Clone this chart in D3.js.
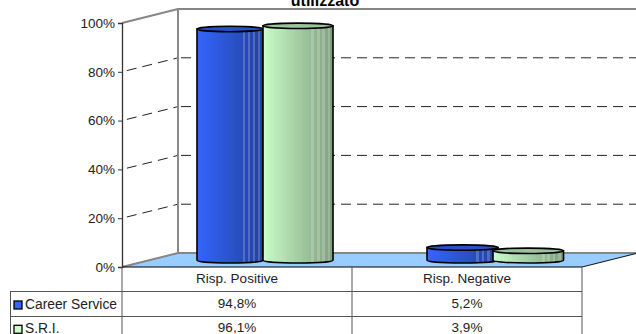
<!DOCTYPE html>
<html><head><meta charset="utf-8">
<script src="https://cdn.jsdelivr.net/npm/d3@7/dist/d3.min.js"></script>
<style>html,body{margin:0;padding:0;background:#fff;overflow:hidden}text{font-family:"Liberation Sans",Arial,sans-serif;fill:#222}</style>
</head><body><svg id="c" width="636" height="334"></svg>
<script>
const categories = ["Risp. Positive","Risp. Negative"];
const seriesNames = ["Career Service","S.R.I."];
const careerService = [94.8,5.2];
const sri = [96.1,3.9];
const yTicks = [0,20,40,60,80,100];
const title = "utilizzato";
const series = [careerService, sri];
const fmt = v => v.toFixed(1).replace(".",",")+"%";

const svg = d3.select("#c");
const y = d3.scaleLinear().domain([0,100]).range([267,23]);
const x = d3.scaleBand().domain(categories).range([122,582]);
const dx = 56, dy = -14;
const right = 636;

const defs = svg.append("defs");
function grad(id, l, m, r){
  const g = defs.append("linearGradient").attr("id",id);
  const c = d3.scaleLinear().domain([0,.15,1]).range([l,m,r]);
  const n = 26;
  d3.range(n).forEach(i=>{
    let col = c((i+.5)/n);
    if(i>=18 && i%2===0) col = d3.interpolateRgb(col,"#ffffff")(.2);
    g.append("stop").attr("offset",i/n).attr("stop-color",col);
    g.append("stop").attr("offset",(i+1)/n).attr("stop-color",col);
  });
}
grad("g0","#3366ff","#3060ee","#22409e");
grad("g1","#ccffcc","#bdeebd","#7f9f7f");

svg.append("text").attr("x",325).attr("y",5.5).attr("text-anchor","middle")
  .attr("font-size",16).attr("font-weight","bold").style("fill","#000").text(title);

svg.append("polygon").attr("fill","#99ccff")
  .attr("points",[[122,y(0)],[582,y(0)],[582+dx,y(0)+dy],[122+dx,y(0)+dy]].join(" "));

yTicks.filter(t=>t>0&&t<100).forEach(t=>{
  svg.append("line").attr("x1",122).attr("y1",y(t)).attr("x2",122+dx).attr("y2",y(t)+dy)
    .attr("stroke","#222").attr("stroke-dasharray","10 6").attr("stroke-dashoffset",-5);
  svg.append("line").attr("x1",122+dx).attr("y1",y(t)+dy).attr("x2",right).attr("y2",y(t)+dy)
    .attr("stroke","#222").attr("stroke-dasharray","10 6").attr("stroke-dashoffset",-3);
});

const gray="#858585";
svg.append("path").attr("fill","none").attr("stroke",gray).attr("stroke-width",1.9)
  .attr("d",`M122,${y(100)}L${122+dx},${y(100)+dy}H${right}M122,${y(0)}L${122+dx},${y(0)+dy}H${right}M${122+dx},${y(100)+dy}V${y(0)+dy}`);

svg.append("line").attr("x1",122).attr("x2",582).attr("y1",y(0)).attr("y2",y(0)).attr("stroke","#000").attr("stroke-width",1.2);
svg.append("line").attr("x1",582).attr("y1",y(0)).attr("x2",582+dx).attr("y2",y(0)+dy).attr("stroke","#111");

const barW = [[66,70],[71,70.5]];
const barX = [[197,263],[427,493]];
const topCol = ["#2a50c8","#9cc49c"];
const baseY = 260.3, scaleH = (y(0)-y(100))/100;
categories.forEach((c,ci)=>{
  series.forEach((s,si)=>{
    const w = barW[ci][si], l = barX[ci][si], rx=w/2, ry=2.7;
    const top = baseY - s[ci]*scaleH;
    const g = svg.append("g");
    g.append("path").attr("fill",`url(#g${si})`).attr("stroke","#000").attr("stroke-width",1.6)
     .attr("d",`M${l},${top}V${baseY}A${rx},${ry} 0 0 0 ${l+w},${baseY}V${top}Z`);
    g.append("ellipse").attr("cx",l+rx).attr("cy",top).attr("rx",rx).attr("ry",ry)
     .attr("fill",topCol[si]).attr("stroke","#000").attr("stroke-width",1.6);
  });
});

const axis = svg.append("g").attr("transform","translate(122,0)")
  .call(d3.axisLeft(y).tickValues(yTicks).tickSize(4).tickPadding(3).tickFormat(d=>d+"%"));
axis.select(".domain").attr("stroke","#333").attr("stroke-width",1.3);
axis.selectAll("line").attr("stroke","#333");
axis.selectAll("text").attr("font-size",13.5).style("font-family",'"Liberation Sans"');

const rowY = [267,291,315.3];
const tc="#555";
[122,352,582].forEach(cx=>svg.append("line").attr("x1",cx).attr("x2",cx).attr("y1",267).attr("y2",334).attr("stroke",tc));
svg.append("line").attr("x1",10.5).attr("x2",10.5).attr("y1",291).attr("y2",334).attr("stroke",tc);
[291.5,316.5].forEach(yy=>svg.append("line").attr("x1",10).attr("x2",582).attr("y1",yy).attr("y2",yy).attr("stroke",tc));
categories.forEach((c,i)=>{
  svg.append("text").attr("x",x(c)+x.bandwidth()/2).attr("y",283).attr("text-anchor","middle").attr("font-size",13.5).text(c);
  series.forEach((s,si)=>{
    svg.append("text").attr("x",x(c)+x.bandwidth()/2).attr("y",rowY[si+1]+17).attr("text-anchor","middle").attr("font-size",13.5).text(fmt(s[i]));
  });
});
const keyCols=["#3366ff","#ccffcc"];
seriesNames.forEach((n,i)=>{
  svg.append("rect").attr("x",14).attr("y",rowY[i+1]+10).attr("width",8).attr("height",8)
    .attr("fill",keyCols[i]).attr("stroke","#000").attr("stroke-width",1.3);
  svg.append("text").attr("x",25).attr("y",rowY[i+1]+18).attr("font-size",13.8).text(n);
});
</script></body></html>
